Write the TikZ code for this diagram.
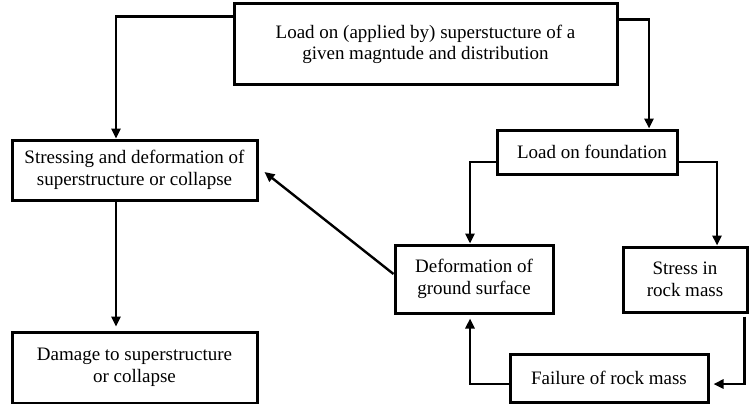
\documentclass[tikz,border=0pt]{standalone}
\usepackage{fontspec}
\setmainfont{Liberation Serif}
\usetikzlibrary{arrows.meta}

\tikzset{
  box/.style={draw, line width=3pt, inner sep=2pt, align=center,
    font=\fontsize{19}{21.5}\selectfont},
  arr/.style={line width=2.4pt, -{Triangle[length=10pt,width=9pt]}}
}

\begin{document}
\begin{tikzpicture}[x=1pt,y=-1pt]
\useasboundingbox (0,0) rectangle (750,404);
%Boxes
\node[box, minimum width=383, minimum height=81] (top) at (425.5,44.5) {Load on (applied by) superstucture of a\\ given magntude and distribution};
\node[box, minimum width=245, minimum height=60] (stress) at (134.5,170) {Stressing and deformation of\\ superstructure or collapse};
\node[box, minimum width=180, minimum height=44] (found) at (587,152) {\hspace{10pt}Load on foundation};
\node[box, minimum width=158, minimum height=68] (deform) at (474,279) {Deformation of\\ ground surface};
\node[box, minimum width=124, minimum height=65] (rock) at (685,279.5) {Stress in\\ rock mass};
\node[box, minimum width=245, minimum height=71] (damage) at (134.5,367.5) {Damage to superstructure\\ or collapse};
\node[box, minimum width=198, minimum height=48] (failure) at (609,378) {Failure of rock mass};
%Arrows
\draw[arr] ([yshift=-14pt]top.north west) -| ([xshift=-18.5pt]stress.north);
\draw[arr] ([yshift=-17pt]top.north east) -| ([xshift=62pt]found.north);
\draw[arr] ([yshift=-10pt]found.west) -| ([xshift=-4pt]deform.north);
\draw[arr] ([yshift=-10pt]found.east) -| ([xshift=32pt]rock.north);
\draw[arr] ([xshift=-4pt,yshift=-3pt]rock.south east) |- ([xshift=4pt,yshift=-6pt]failure.east);
\draw[arr, shorten >=4pt] ([yshift=-6pt]failure.west) -| ([xshift=-4pt]deform.south);
\draw[arr] ([yshift=5pt]deform.west) -- ([xshift=6pt,yshift=-2pt]stress.east);
\draw[arr, shorten >=4pt] ([xshift=-18.5pt]stress.south) -- ([xshift=-18.5pt]damage.north);
\end{tikzpicture}
\end{document}
